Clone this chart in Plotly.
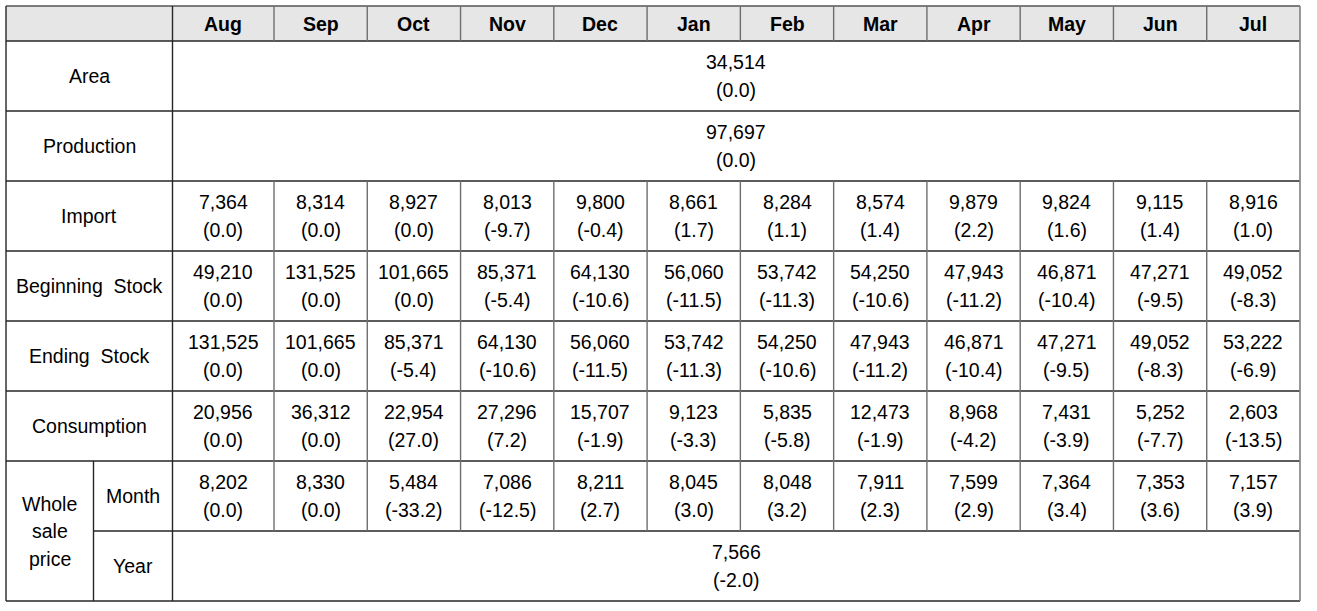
import plotly.graph_objects as go

# ---------------- data ----------------
months = ["Aug", "Sep", "Oct", "Nov", "Dec", "Jan", "Feb", "Mar", "Apr", "May", "Jun", "Jul"]

area_value = 34514
area_change = 0.0
production_value = 97697
production_change = 0.0

import_values = [7364, 8314, 8927, 8013, 9800, 8661, 8284, 8574, 9879, 9824, 9115, 8916]
import_changes = [0.0, 0.0, 0.0, -9.7, -0.4, 1.7, 1.1, 1.4, 2.2, 1.6, 1.4, 1.0]

beginning_values = [49210, 131525, 101665, 85371, 64130, 56060, 53742, 54250, 47943, 46871, 47271, 49052]
beginning_changes = [0.0, 0.0, 0.0, -5.4, -10.6, -11.5, -11.3, -10.6, -11.2, -10.4, -9.5, -8.3]

ending_values = [131525, 101665, 85371, 64130, 56060, 53742, 54250, 47943, 46871, 47271, 49052, 53222]
ending_changes = [0.0, 0.0, -5.4, -10.6, -11.5, -11.3, -10.6, -11.2, -10.4, -9.5, -8.3, -6.9]

consumption_values = [20956, 36312, 22954, 27296, 15707, 9123, 5835, 12473, 8968, 7431, 5252, 2603]
consumption_changes = [0.0, 0.0, 27.0, 7.2, -1.9, -3.3, -5.8, -1.9, -4.2, -3.9, -7.7, -13.5]

month_price_values = [8202, 8330, 5484, 7086, 8211, 8045, 8048, 7911, 7599, 7364, 7353, 7157]
month_price_changes = [0.0, 0.0, -33.2, -12.5, 2.7, 3.0, 3.2, 2.3, 2.9, 3.4, 3.6, 3.9]

year_price_value = 7566
year_price_change = -2.0

row_labels = ["Area", "Production", "Import", "Beginning  Stock", "Ending  Stock", "Consumption"]
price_group_label = ["Whole", "sale", "price"]
price_sub_labels = ["Month", "Year"]

# ---------------- layout geometry ----------------
W, H = 1317, 611
LEFT, SPLIT, LABEL_END, RIGHT = 6, 93.5, 172.5, 1300
FIRST_COL_W = 101.5
TOP, HEADER_H, ROW_H = 6, 35, 70
LINE_GAP = 27.5

other_w = (RIGHT - LABEL_END - FIRST_COL_W) / (len(months) - 1)
col_edges = [LABEL_END, LABEL_END + FIRST_COL_W]
for _ in range(len(months) - 1):
    col_edges.append(col_edges[-1] + other_w)
col_centers = [(col_edges[i] + col_edges[i + 1]) / 2 for i in range(len(months))]

n_rows = 8  # 6 rows + month + year
row_edges = [TOP, TOP + HEADER_H]
for _ in range(n_rows):
    row_edges.append(row_edges[-1] + ROW_H)
BOTTOM = row_edges[-1]

def rc(i):
    return (row_edges[i + 1] + row_edges[i + 2]) / 2

FONT = "Liberation Sans, Arial, sans-serif"
FS = 19.5
H_COLOR = "#262626"
V_COLOR = "#6e6e6e"

shapes = []
annotations = []

def hline(y, x0, x1, color=H_COLOR, w=1.4):
    shapes.append(dict(type="line", xref="x", yref="y", x0=x0, x1=x1, y0=y, y1=y,
                       line=dict(color=color, width=w)))

def vline(x, y0, y1, color=V_COLOR, w=1.4):
    shapes.append(dict(type="line", xref="x", yref="y", x0=x, x1=x, y0=y0, y1=y1,
                       line=dict(color=color, width=w)))

def text(x, y, s, size=FS):
    annotations.append(dict(x=x, y=y, xref="x", yref="y", text=s, showarrow=False,
                            xanchor="center", yanchor="middle",
                            font=dict(family=FONT, size=size, color="#000000")))

def cell2(x, y, v, c):
    text(x, y - LINE_GAP / 2, f"{v:,}")
    text(x, y + LINE_GAP / 2, f"({c:.1f})")

# header background
shapes.append(dict(type="rect", xref="x", yref="y", x0=LEFT, x1=RIGHT, y0=row_edges[0], y1=row_edges[1],
                   fillcolor="#e6e6e6", line=dict(width=0), layer="below"))

# horizontal lines
for i, y in enumerate(row_edges):
    if i == len(row_edges) - 2:  # between Month and Year
        hline(y, SPLIT, RIGHT)
    else:
        hline(y, LEFT, RIGHT, color=H_COLOR if i != 0 else "#555555")

# vertical lines
vline(LEFT, TOP, BOTTOM, color="#262626")
vline(RIGHT, TOP, BOTTOM, color="#808080", w=1.6)
vline(LABEL_END, TOP, BOTTOM, color="#262626")
vline(SPLIT, row_edges[-3], BOTTOM, color="#262626")
for x in col_edges[1:-1]:
    vline(x, row_edges[0], row_edges[1])
    vline(x, row_edges[3], row_edges[-2])

# header text
for m, x in zip(months, col_centers):
    text(x, (row_edges[0] + row_edges[1]) / 2 + 0.5, f"<b>{m}</b>")

# labels
label_cx = (LEFT + LABEL_END) / 2
for i, lab in enumerate(row_labels):
    text(label_cx, rc(i), lab)
gcx = (LEFT + SPLIT) / 2
gcy = (row_edges[-3] + row_edges[-1]) / 2
for k, part in enumerate(price_group_label):
    text(gcx, gcy + (k - 1) * LINE_GAP, part)
text((SPLIT + LABEL_END) / 2, rc(6), price_sub_labels[0])
text((SPLIT + LABEL_END) / 2, rc(7), price_sub_labels[1])

# merged value cells
mid = (LABEL_END + RIGHT) / 2
cell2(mid, rc(0), area_value, area_change)
cell2(mid, rc(1), production_value, production_change)
cell2(mid, rc(7), year_price_value, year_price_change)

# monthly rows
series = [(import_values, import_changes), (beginning_values, beginning_changes),
          (ending_values, ending_changes), (consumption_values, consumption_changes),
          (month_price_values, month_price_changes)]
for r, (vals, chgs) in enumerate(series, start=2):
    for x, v, c in zip(col_centers, vals, chgs):
        cell2(x, rc(r), v, c)

fig = go.Figure()
fig.add_trace(go.Scatter(x=[0, W], y=[0, H], mode="markers", marker=dict(opacity=0),
                         hoverinfo="skip", showlegend=False))
fig.update_layout(
    width=W, height=H, margin=dict(l=0, r=0, t=0, b=0),
    paper_bgcolor="white", plot_bgcolor="white",
    xaxis=dict(range=[0, W], visible=False, fixedrange=True),
    yaxis=dict(range=[H, 0], visible=False, fixedrange=True),
    shapes=shapes, annotations=annotations, showlegend=False,
)
fig.write_html("out.html", config={"displayModeBar": False},
               post_script="document.body.style.margin='0';document.body.style.overflow='hidden';")
